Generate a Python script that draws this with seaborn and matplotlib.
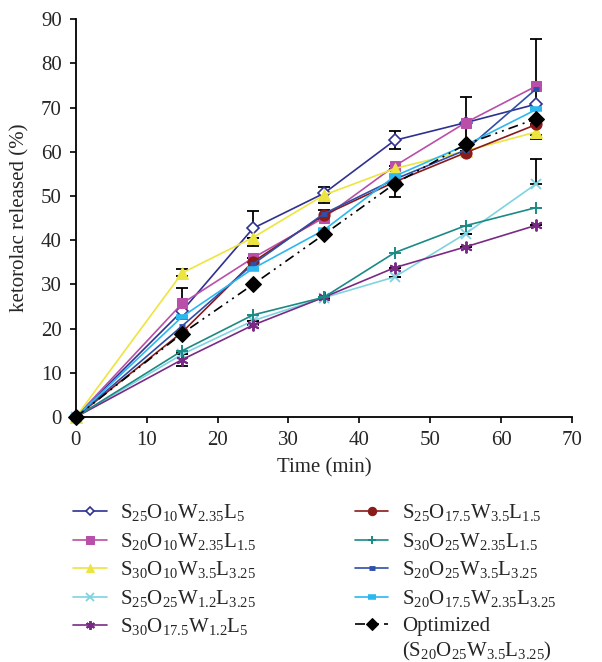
import numpy as np
import pandas as pd
import seaborn as sns
import matplotlib.pyplot as plt

time_min = [0, 15, 25, 35, 45, 55, 65]

labels = [
    r'S$_{25}$O$_{10}$W$_{2.35}$L$_{5}$',
    r'S$_{20}$O$_{10}$W$_{2.35}$L$_{1.5}$',
    r'S$_{30}$O$_{10}$W$_{3.5}$L$_{3.25}$',
    r'S$_{25}$O$_{25}$W$_{1.2}$L$_{3.25}$',
    r'S$_{30}$O$_{17.5}$W$_{1.2}$L$_{5}$',
    r'S$_{25}$O$_{17.5}$W$_{3.5}$L$_{1.5}$',
    r'S$_{30}$O$_{25}$W$_{2.35}$L$_{1.5}$',
    r'S$_{20}$O$_{25}$W$_{3.5}$L$_{3.25}$',
    r'S$_{20}$O$_{17.5}$W$_{2.35}$L$_{3.25}$',
    'Optimized',
]
optimized_note = r'(S$_{20}$O$_{25}$W$_{3.5}$L$_{3.25}$)'

# % ketorolac released, one list per formulation
s25_o10_w235_l5 = [0, 24.0, 42.7, 50.6, 62.6, 66.6, 70.8]
s20_o10_w235_l15 = [0, 25.7, 36.0, 45.1, 56.8, 66.6, 74.9]
s30_o10_w35_l325 = [0, 32.6, 40.6, 50.2, 56.2, 60.2, 64.5]
s25_o25_w12_l325 = [0, 14.2, 21.8, 27.0, 31.7, 41.5, 52.8]
s30_o175_w12_l5 = [0, 13.0, 20.8, 27.1, 33.8, 38.5, 43.4]
s25_o175_w35_l15 = [0, 19.2, 35.1, 45.7, 53.2, 59.8, 66.2]
s30_o25_w235_l15 = [0, 15.0, 23.1, 27.1, 37.2, 43.3, 47.4]
s20_o25_w35_l325 = [0, 20.6, 34.6, 46.0, 53.8, 60.4, 74.3]
s20_o175_w235_l325 = [0, 22.7, 33.6, 42.3, 54.5, 61.5, 69.6]
optimized = [0, 18.9, 30.0, 41.3, 52.8, 61.7, 67.5]

# error bars (lower, upper), only those visible in the figure
err_navy = ([0, 0, 3.9, 0, 2.0, 0, 0], [0, 0, 3.9, 0, 2.0, 0, 0])
err_pink = ([0, 3.6, 0, 0, 0, 5.7, 11.0], [0, 3.6, 0, 0, 0, 5.7, 10.7])
err_yellow = ([0, 0.8, 0, 1.8, 0, 0, 1.5], [0, 0.8, 0, 1.8, 0, 0, 1.5])
err_cyan = ([0, 0, 0, 0, 0, 0, 0], [0, 0, 0, 0, 0, 0, 5.5])
err_purple = ([0, 1.5, 0, 0, 0, 0, 0], [0, 1.5, 0, 0, 0, 0, 0])
err_red = ([0, 0, 0, 1.2, 0, 0, 0], [0, 0, 0, 1.2, 0, 0, 0])
err_opt = ([0, 0, 0, 0, 3.1, 0, 0], [0, 0, 0, 0, 3.1, 0, 0])

series = [s25_o10_w235_l5, s20_o10_w235_l15, s30_o10_w35_l325, s25_o25_w12_l325,
          s30_o175_w12_l5, s25_o175_w35_l15, s30_o25_w235_l15, s20_o25_w35_l325,
          s20_o175_w235_l325, optimized]
errs = [err_navy, err_pink, err_yellow, err_cyan, err_purple, err_red, None, None, None, err_opt]

colors = ['#2e3192', '#b94fa8', '#ede53f', '#7fd3e0', '#7a2a85',
          '#8b1a1a', '#1b8a85', '#2f4fa8', '#2bb8f0', '#000000']
styles = [
    dict(marker='D', ms=6, mfc='white', mec='#2e3192', mew=1.2),
    dict(marker='s', ms=7.5, mfc='#b94fa8', mec='#b94fa8'),
    dict(marker='^', ms=8.5, mfc='#ede53f', mec='#ede53f'),
    dict(marker='x', ms=7, mec='#7fd3e0', mew=1.3),
    dict(marker=(6, 2, 0), ms=8.5, mec='#7a2a85', mew=1.4),
    dict(marker='o', ms=8, mfc='#8b1a1a', mec='#8b1a1a'),
    dict(marker='+', ms=8.5, mec='#1b8a85', mew=1.4),
    dict(marker='_', ms=5, mec='#2f4fa8', mew=3.5),
    dict(marker='_', ms=8, mec='#2bb8f0', mew=4),
    dict(marker='D', ms=8, mfc='black', mec='black'),
]

sns.set_theme(style='ticks')
plt.rcParams['font.family'] = ['Liberation Serif', 'DejaVu Serif']
plt.rcParams['mathtext.fontset'] = 'custom'
plt.rcParams['mathtext.rm'] = 'Liberation Serif'
plt.rcParams['mathtext.it'] = 'Liberation Serif'
plt.rcParams['mathtext.default'] = 'regular'

fig = plt.figure(figsize=(6.02, 6.62), dpi=100)
ax = fig.add_axes([0.126, 0.370, 0.824, 0.601])

handles = []
for i, (vals, lab, col, st) in enumerate(zip(series, labels, colors, styles)):
    df = pd.DataFrame({'time': time_min, 'released': vals})
    if errs[i] is not None:
        lo, hi = errs[i]
        ax.errorbar(time_min, vals, yerr=[lo, hi], fmt='none', ecolor='black',
                    elinewidth=1.3, capsize=4, capthick=1.3, zorder=2)
    ls = (0, (6, 3, 1.2, 3, 1.2, 3)) if i == 9 else '-'
    sns.lineplot(data=df, x='time', y='released', ax=ax, color=col, lw=1.2,
                 linestyle=ls, clip_on=False, zorder=3 + i * 0.1, **st)
    handles.append(ax.get_lines()[-1])

ax.set_xlim(0, 70)
ax.set_ylim(0, 90)
ax.set_xticks(np.arange(0, 71, 10))
ax.set_yticks(np.arange(0, 91, 10))
ax.set_xlabel('Time (min)', fontsize=15, labelpad=6)
ax.set_ylabel('ketorolac released (%)', fontsize=15, labelpad=8)
ax.tick_params(axis='both', labelsize=15, length=4, width=1.2, color='black',
               direction='out', pad=6)
sns.despine(ax=ax)
for sp in ['left', 'bottom']:
    ax.spines[sp].set_linewidth(1.3)
    ax.spines[sp].set_color('black')

leg = fig.legend(handles, labels, loc='upper left', bbox_to_anchor=(0.122, 0.241),
                 ncol=2, frameon=False, fontsize=15, handlelength=1.6,
                 handletextpad=0.65, columnspacing=4.75, labelspacing=0.36,
                 borderpad=0, borderaxespad=0, numpoints=1, markerscale=0.75)

# second line of the "Optimized" entry, placed under its legend text
fig.canvas.draw()
bb = leg.get_texts()[-1].get_window_extent().transformed(fig.transFigure.inverted())
fig.text(bb.x0, bb.y0 - 0.006, optimized_note, fontsize=15, ha='left', va='top')

fig.savefig('out.png', dpi=100)
